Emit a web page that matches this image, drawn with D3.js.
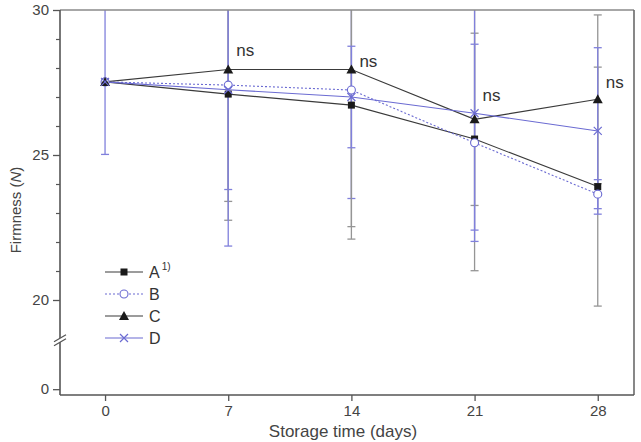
<!DOCTYPE html>
<html>
<head>
<meta charset="utf-8">
<script src="https://cdn.jsdelivr.net/npm/d3@7"></script>
<style>
  html, body { margin: 0; padding: 0; background: #fff; }
  svg { display: block; font-family: "Liberation Sans", Arial, sans-serif; }
</style>
</head>
<body>
<svg id="chart" width="641" height="442"></svg>
<script>
// ---------------- data ----------------
const days = [0, 7, 14, 21, 28];
const seriesNames = ["A", "B", "C", "D"];
const valuesA = [27.52, 27.10, 26.72, 25.55, 23.91];
const valuesB = [27.52, 27.41, 27.24, 25.42, 23.65];
const valuesC = [27.52, 27.95, 27.95, 26.23, 26.92];
const valuesD = [27.52, 27.25, 27.00, 26.44, 25.83];
const errA = [0, 3.70, 4.19, 4.54, 4.12];
const errB = [0, 3.60, 3.74, 3.40, 0.50];
const errC = [0, 5.20, 5.85, 2.97, 2.91];
const errD = [2.5, 5.39, 1.75, 4.03, 2.87];
const xTicks = [0, 7, 14, 21, 28];
const yMajorTicks = [0, 20, 25, 30];
const yMinorTicks = [21, 22, 23, 24, 26, 27, 28, 29];
const nsLabels = ["ns", "ns", "ns", "ns"];
const nsDays = [7, 14, 21, 28];
const nsLevels = [28.42, 28.03, 26.86, 27.31];
const xTitle = "Storage time (days)";
const yTitle = "Firmness (";
const yTitleItalic = "N";

// ---------------- layout ----------------
const svg = d3.select("#chart");
const L = 60, R = 634, T = 10, B = 395;
const black = "#1a1a1a", lineBlack = "#3a3a3a", blue = "#6b6bd2";
const errGray = "#959595", errBlue = "#8080dc";

const x = d3.scaleLinear().domain([-2.56, 30.06]).range([L, R]);
// broken axis: lower segment [~0], upper segment [20..30]
const y = d3.scaleLinear().domain([-0.2, 1.6, 18.7, 30]).range([B, 342.6, 337.7, T]);

const series = [
  { name: "A", vals: valuesA, err: errA, line: lineBlack, dash: null, errColor: errGray, marker: "square" },
  { name: "B", vals: valuesB, err: errB, line: blue, dash: "2,2", errColor: errBlue, marker: "circle" },
  { name: "C", vals: valuesC, err: errC, line: lineBlack, dash: null, errColor: errGray, marker: "triangle" },
  { name: "D", vals: valuesD, err: errD, line: blue, dash: null, errColor: errBlue, marker: "cross" }
];

svg.append("defs").append("clipPath").attr("id", "clip")
  .append("rect").attr("x", L).attr("y", T).attr("width", R - L).attr("height", B - T);

const plot = svg.append("g").attr("clip-path", "url(#clip)");

// error bars
series.forEach(s => {
  const g = plot.append("g");
  days.forEach((d, i) => {
    const v = s.vals[i], e = s.err[i];
    const cx = x(d);
    g.append("line").attr("x1", cx).attr("x2", cx)
      .attr("y1", y(v - e)).attr("y2", y(v + e))
      .attr("stroke", s.errColor).attr("stroke-width", 1.3);
    [v - e, v + e].forEach(c => {
      g.append("line").attr("x1", cx - 4).attr("x2", cx + 4)
        .attr("y1", y(c)).attr("y2", y(c))
        .attr("stroke", s.errColor).attr("stroke-width", 1.3);
    });
  });
});

// lines
const lineGen = d3.line().x((d, i) => x(days[i])).y(d => y(d));
series.forEach(s => {
  plot.append("path").datum(s.vals)
    .attr("d", lineGen)
    .attr("fill", "none")
    .attr("stroke", s.line)
    .attr("stroke-width", 1.1)
    .attr("stroke-dasharray", s.dash);
});

function drawMarker(g, type, cx, cy) {
  if (type === "square") {
    g.append("rect").attr("x", cx - 3.5).attr("y", cy - 3.5).attr("width", 7).attr("height", 7)
      .attr("fill", black);
  } else if (type === "circle") {
    g.append("circle").attr("cx", cx).attr("cy", cy).attr("r", 4)
      .attr("fill", "#fff").attr("stroke", blue).attr("stroke-width", 1.1);
  } else if (type === "triangle") {
    g.append("path").attr("d", `M${cx},${cy - 5}L${cx + 5},${cy + 4}L${cx - 5},${cy + 4}Z`)
      .attr("fill", black);
  } else if (type === "cross") {
    g.append("path").attr("d", `M${cx - 4},${cy - 4}L${cx + 4},${cy + 4}M${cx - 4},${cy + 4}L${cx + 4},${cy - 4}`)
      .attr("stroke", blue).attr("stroke-width", 1.2).attr("fill", "none");
  }
}

// markers
series.forEach(s => {
  const g = plot.append("g");
  days.forEach((d, i) => drawMarker(g, s.marker, x(d), y(s.vals[i])));
});

// frame
svg.append("line").attr("x1", L).attr("x2", R).attr("y1", T).attr("y2", T)
  .attr("stroke", "#8a8a8a").attr("stroke-width", 1.6);
svg.append("line").attr("x1", R).attr("x2", R).attr("y1", T).attr("y2", B)
  .attr("stroke", "#6a6a6a").attr("stroke-width", 1.6);

// axes
const xAxis = d3.axisBottom(x).tickValues(xTicks).tickSize(6).tickPadding(4).tickSizeOuter(0);
const gx = svg.append("g").attr("transform", `translate(0,${B})`).call(xAxis);
gx.select(".domain").attr("stroke", "#555").attr("stroke-width", 1.6).attr("d", `M${L},0H${R}`);
gx.selectAll(".tick line").attr("stroke", "#555").attr("stroke-width", 1.3);
gx.selectAll(".tick text").attr("fill", "#444").attr("font-size", 15)
  .attr("font-family", "Liberation Sans, Arial, sans-serif");

const yAxis = d3.axisLeft(y).tickValues(yMajorTicks).tickSize(7).tickPadding(4).tickSizeOuter(0);
const gy = svg.append("g").attr("transform", `translate(${L},0)`).call(yAxis);
gy.select(".domain").attr("stroke", "#555").attr("stroke-width", 1.6).attr("d", `M0,${T}V${B}`);
gy.selectAll(".tick line").attr("stroke", "#555").attr("stroke-width", 1.3);
gy.selectAll(".tick text").attr("fill", "#444").attr("font-size", 15)
  .attr("font-family", "Liberation Sans, Arial, sans-serif");

const yMinor = d3.axisLeft(y).tickValues(yMinorTicks).tickSize(4).tickFormat("").tickSizeOuter(0);
const gym = svg.append("g").attr("transform", `translate(${L},0)`).call(yMinor);
gym.select(".domain").remove();
gym.selectAll(".tick line").attr("stroke", "#555").attr("stroke-width", 1.2);

// axis break marker
const by = y(10);
svg.append("path")
  .attr("d", `M${L - 6},${by + 1.5}L${L + 6},${by - 5.5}L${L + 6},${by - 1.5}L${L - 6},${by + 5.5}Z`)
  .attr("fill", "#fff");
svg.append("path")
  .attr("d", `M${L - 6},${by + 1.5}L${L + 6},${by - 5.5}M${L - 6},${by + 5.5}L${L + 6},${by - 1.5}`)
  .attr("stroke", "#555").attr("stroke-width", 1.3).attr("fill", "none");

// ns annotations
nsLabels.forEach((t, i) => {
  svg.append("text").attr("x", x(nsDays[i]) + 8).attr("y", y(nsLevels[i]))
    .attr("font-size", 17).attr("fill", "#333").text(t);
});

// axis titles
svg.append("text").attr("x", 343).attr("y", 437)
  .attr("text-anchor", "middle").attr("font-size", 17).attr("fill", "#444").text(xTitle);
const yt = svg.append("text").attr("transform", `translate(21,210) rotate(-90)`)
  .attr("text-anchor", "middle").attr("font-size", 15).attr("fill", "#444");
yt.append("tspan").text(yTitle);
yt.append("tspan").attr("font-style", "italic").text(yTitleItalic);
yt.append("tspan").text(")");

// legend
const legX = 105, legY = 272, legGap = 22, legLen = 38;
series.forEach((s, i) => {
  const ly = legY + i * legGap;
  const g = svg.append("g");
  g.append("line").attr("x1", legX).attr("x2", legX + legLen).attr("y1", ly).attr("y2", ly)
    .attr("stroke", s.line).attr("stroke-width", 1.1).attr("stroke-dasharray", s.dash);
  drawMarker(g, s.marker, legX + legLen / 2, ly);
  const t = g.append("text").attr("x", legX + legLen + 6).attr("y", ly + 5.5)
    .attr("font-size", 16).attr("fill", "#333").text(seriesNames[i]);
  if (i === 0) {
    t.append("tspan").attr("font-size", 10).attr("dy", -8).attr("dx", 2).text("1)");
  }
});
</script>
</body>
</html>
